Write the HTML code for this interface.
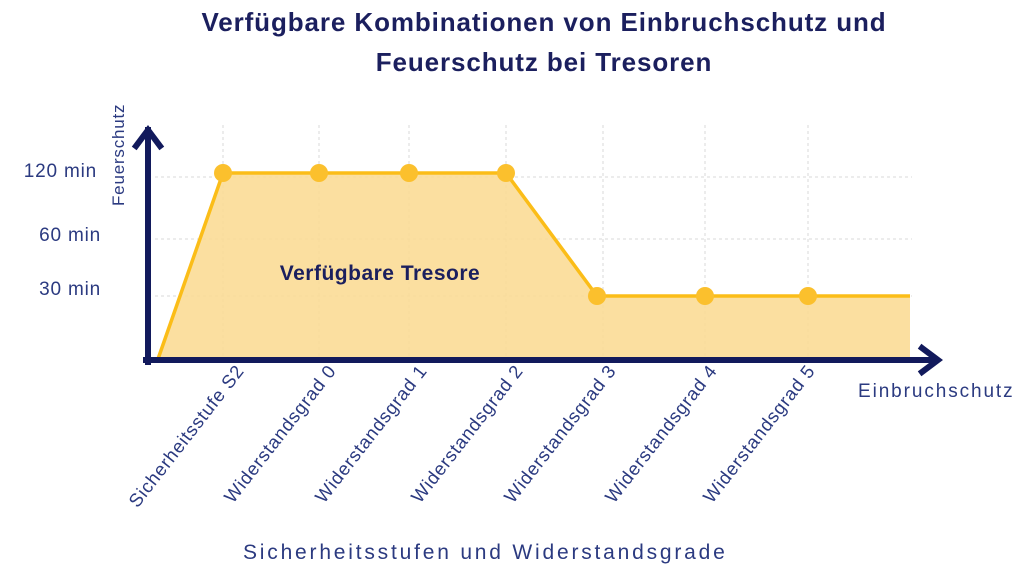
<!DOCTYPE html>
<html><head><meta charset="utf-8"><style>
html,body{margin:0;padding:0;background:#fff;width:1024px;height:581px;overflow:hidden}
svg{display:block}
</style></head><body>
<svg width="1024" height="581" viewBox="0 0 1024 581" font-family="Liberation Sans, sans-serif">
<text x="544" y="31" text-anchor="middle" font-size="26" font-weight="bold" fill="#1b1f5e" letter-spacing="0.9">Verfügbare Kombinationen von Einbruchschutz und</text>
<text x="544" y="71" text-anchor="middle" font-size="26" font-weight="bold" fill="#1b1f5e" letter-spacing="0.9">Feuerschutz bei Tresoren</text>
<g stroke="#d8d8d8" stroke-width="1" stroke-dasharray="3,3">
<line x1="155" y1="177" x2="912" y2="177"/><line x1="155" y1="239" x2="912" y2="239"/><line x1="155" y1="296" x2="912" y2="296"/>
<line x1="223" y1="125" x2="223" y2="358"/><line x1="319" y1="125" x2="319" y2="358"/><line x1="409" y1="125" x2="409" y2="358"/>
<line x1="506" y1="125" x2="506" y2="358"/><line x1="603" y1="125" x2="603" y2="358"/><line x1="705" y1="125" x2="705" y2="358"/><line x1="808" y1="125" x2="808" y2="358"/>
</g>
<polygon points="158,359 223,173 506,173 597,296 910,296 910,359" fill="#fbdc96" fill-opacity="0.9"/>
<polyline points="158,359 223,173 506,173 597,296 910,296" fill="none" stroke="#fbbd18" stroke-width="3.5"/>
<g fill="#fbc02d">
<circle cx="223" cy="173" r="9"/><circle cx="319" cy="173" r="9"/><circle cx="409" cy="173" r="9"/><circle cx="506" cy="173" r="9"/>
<circle cx="597" cy="296" r="9"/><circle cx="705" cy="296" r="9"/><circle cx="808" cy="296" r="9"/>
</g>
<text x="380" y="280" text-anchor="middle" font-size="21" font-weight="bold" fill="#1b1f5e" letter-spacing="0.5">Verfügbare Tresore</text>
<g stroke="#121a5c" stroke-width="6" fill="none" stroke-linecap="square">
<line x1="148" y1="362" x2="148" y2="130"/><polyline points="136,146 148,130 160,146" stroke-width="6"/>
<line x1="146" y1="360" x2="935" y2="360"/><polyline points="922,348 938,360 922,372" stroke-width="6"/>
</g>
<g font-size="19" fill="#2b3a80" letter-spacing="0.8">
<text x="97" y="177" text-anchor="end">120 min</text>
<text x="101" y="241" text-anchor="end">60 min</text>
<text x="101" y="295" text-anchor="end">30 min</text>
<text x="858" y="397" letter-spacing="1.9">Einbruchschutz</text>
<text x="243" y="559" font-size="21" letter-spacing="2.8">Sicherheitsstufen und Widerstandsgrade</text>
<text transform="translate(124,206) rotate(-90)" font-size="17">Feuerschutz</text>
</g>
<g font-size="18.5" fill="#2b3a80" text-anchor="end" letter-spacing="0.8">
<text transform="translate(245,371) rotate(-52)">Sicherheitsstufe S2</text>
<text transform="translate(337,371) rotate(-52)">Widerstandsgrad 0</text>
<text transform="translate(428,371) rotate(-52)">Widerstandsgrad 1</text>
<text transform="translate(524,371) rotate(-52)">Widerstandsgrad 2</text>
<text transform="translate(617,371) rotate(-52)">Widerstandsgrad 3</text>
<text transform="translate(718,371) rotate(-52)">Widerstandsgrad 4</text>
<text transform="translate(816,371) rotate(-52)">Widerstandsgrad 5</text>
</g>
</svg>
</body></html>
